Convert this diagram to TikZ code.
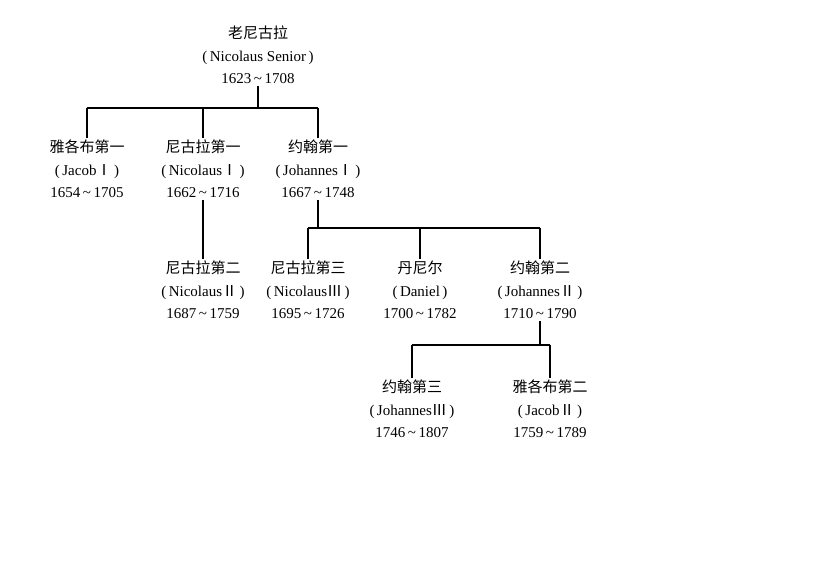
\documentclass[tikz,border=0pt]{standalone}
\usepackage{fontspec}
\setmainfont{Liberation Serif}
\newfontfamily\cjk{Noto Sans CJK SC}
\tikzset{
  person/.style={align=center, inner sep=2pt, font=\fontsize{15}{22.5}\selectfont},
  link/.style={line width=1.1pt}
}
\newcommand{\ren}[3]{{\cjk #1}\\(\,#2\,)\\#3}
\begin{document}
\begin{tikzpicture}[x=1pt,y=-1pt,link]
	\useasboundingbox[fill=white] (0,0) rectangle (831,570);

	% Generationen
	\node[person] (sen) at (258,55) {\ren{老尼古拉}{Nicolaus Senior}{1623\,\textasciitilde\,1708}};
	\node[person] (jac1) at (87,169) {\ren{雅各布第一}{Jacob{\cjk Ⅰ}}{1654\,\textasciitilde\,1705}};
	\node[person] (nic1) at (203,169) {\ren{尼古拉第一}{Nicolaus{\cjk Ⅰ}}{1662\,\textasciitilde\,1716}};
	\node[person] (joh1) at (318,169) {\ren{约翰第一}{Johannes{\cjk Ⅰ}}{1667\,\textasciitilde\,1748}};
	\node[person] (nic2) at (203,290) {\ren{尼古拉第二}{Nicolaus{\cjk Ⅱ}}{1687\,\textasciitilde\,1759}};
	\node[person] (nic3) at (308,290) {\ren{尼古拉第三}{Nicolaus{\cjk Ⅲ}}{1695\,\textasciitilde\,1726}};
	\node[person] (dan) at (420,290) {\ren{丹尼尔}{Daniel}{1700\,\textasciitilde\,1782}};
	\node[person] (joh2) at (540,290) {\ren{约翰第二}{Johannes{\cjk Ⅱ}}{1710\,\textasciitilde\,1790}};
	\node[person] (joh3) at (412,409) {\ren{约翰第三}{Johannes{\cjk Ⅲ}}{1746\,\textasciitilde\,1807}};
	\node[person] (jac2) at (550,409) {\ren{雅各布第二}{Jacob{\cjk Ⅱ}}{1759\,\textasciitilde\,1789}};

	\coordinate (bar1) at (0,108);
	\coordinate (bar2) at (0,228);
	\coordinate (bar3) at (0,345);

	\draw (sen.south) -- (sen.south |- bar1);
	\draw (jac1.north |- bar1) -- (joh1.north |- bar1);
	\foreach \k in {jac1,nic1,joh1}
		\draw (\k.north |- bar1) -- (\k.north);

	\draw (nic1.south) -- (nic2.north);

	\draw (joh1.south) -- (joh1.south |- bar2);
	\draw (nic3.north |- bar2) -- (joh2.north |- bar2);
	\foreach \k in {nic3,dan,joh2}
		\draw (\k.north |- bar2) -- (\k.north);

	\draw (joh2.south) -- (joh2.south |- bar3);
	\draw (joh3.north |- bar3) -- (jac2.north |- bar3);
	\foreach \k in {joh3,jac2}
		\draw (\k.north |- bar3) -- (\k.north);
\end{tikzpicture}
\end{document}
